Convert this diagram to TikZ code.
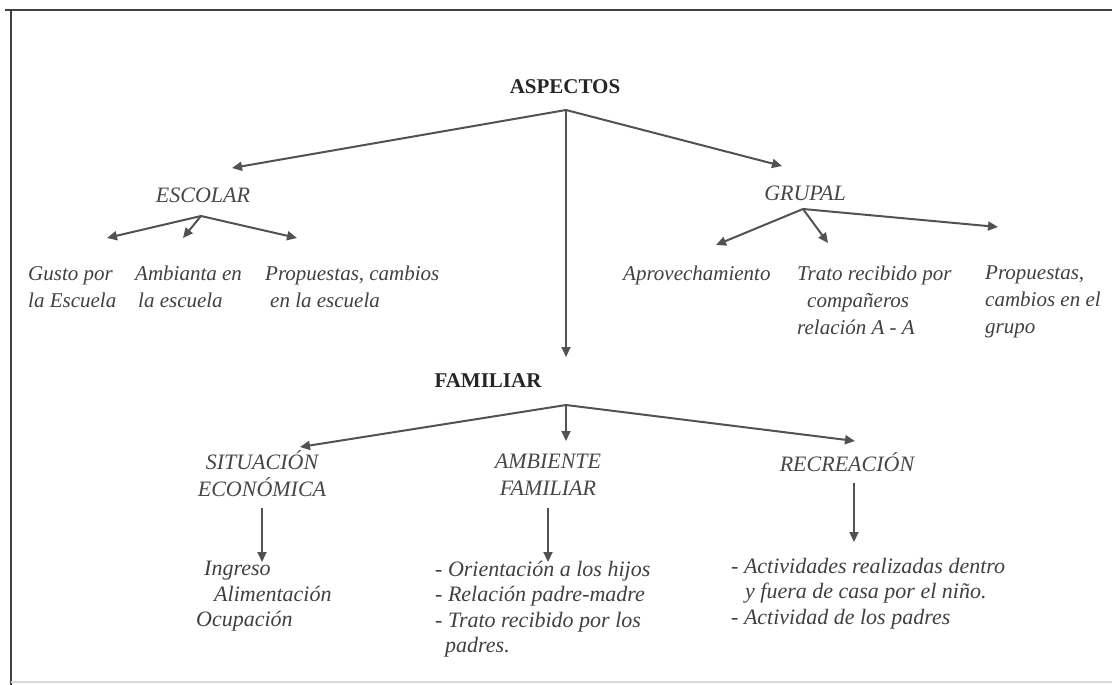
\documentclass[tikz,border=0pt]{standalone}
\usepackage{fontspec}
\setmainfont{Liberation Serif}
\usetikzlibrary{arrows.meta}
\begin{document}
\begin{tikzpicture}[x=1pt,y=-1pt,
  arr/.style={draw=black!68, line width=2pt, -{Triangle[length=10pt,width=9pt]}},
  head/.style={font=\bfseries\fontsize{21}{24}\selectfont, text=black!85, inner sep=0pt},
  cat/.style={font=\itshape\fontsize{22}{27}\selectfont, text=black!72, inner sep=0pt, align=center},
  leaf/.style={font=\itshape\fontsize{21}{27}\selectfont, text=black!75, inner sep=0pt, align=left, anchor=north west},
  leafb/.style={leaf, font=\itshape\fontsize{22}{25.5}\selectfont},
  frameline/.style={line width=2.4pt, draw=black!75}]
\useasboundingbox (0,0) rectangle (1112,685);
% frame
\draw[frameline] (5,10) -- (1112,10);
\draw[frameline, line width=2pt] (11,10) -- (11,685);
\draw[black!15, line width=1.5pt] (11,682) -- (1112,682);

% top level
\node[head] (asp) at (565,87) {ASPECTOS};
\coordinate (apA) at (566,110);
\coordinate (tEsc) at (232,168);
\coordinate (tGrp) at (782,166);
\coordinate (tFam) at (566,357);
\draw[arr] (apA) -- (tEsc);
\draw[arr] (apA) -- (tGrp);
\draw[arr] (apA) -- (tFam);

% ESCOLAR
\node[cat] (esc) at (203,195) {ESCOLAR};
\coordinate (apE) at (201,216);
\coordinate (tE1) at (107,238);
\coordinate (tE2) at (183,238);
\coordinate (tE3) at (297,238);
\draw[arr] (apE) -- (tE1);
\draw[arr] (apE) -- (tE2);
\draw[arr] (apE) -- (tE3);
\node[leaf] (e1) at (28,266) {Gusto por\\la Escuela};
\node[leaf] (e2) at (135,266) {Ambianta en\\\hspace*{3pt}la escuela};
\node[leaf] (e3) at (265,266) {Propuestas, cambios\\\hspace*{5pt}en la escuela};

% GRUPAL
\node[cat] (grp) at (805,193) {GRUPAL};
\coordinate (apG) at (803,209);
\coordinate (tG1) at (716,245);
\coordinate (tG2) at (828,243);
\coordinate (tG3) at (998,227);
\draw[arr] (apG) -- (tG1);
\draw[arr] (apG) -- (tG2);
\draw[arr] (apG) -- (tG3);
\node[leaf] (g1) at (623,266) {Aprovechamiento};
\node[leaf] (g2) at (797,266) {Trato recibido por\\\hspace*{10pt}compañeros\\relación A - A};
\node[leaf] (g3) at (985,266) {Propuestas,\\cambios en el\\grupo};

% FAMILIAR
\node[head] (fam) at (488,381) {FAMILIAR};
\coordinate (apF) at (566,405);
\coordinate (tF1) at (300,447);
\coordinate (tF2) at (566,441);
\coordinate (tF3) at (855,441);
\draw[arr] (apF) -- (tF1);
\draw[arr] (apF) -- (tF2);
\draw[arr] (apF) -- (tF3);

\node[cat, anchor=north] (sit) at (262,450) {SITUACIÓN\\ECONÓMICA};
\node[cat, anchor=north] (amb) at (548,454) {AMBIENTE\\FAMILIAR};
\node[cat] (rec) at (847,462) {RECREACIÓN};

\coordinate (sS) at (262,508);
\coordinate (sE) at (262,562);
\coordinate (aS) at (548,508);
\coordinate (aE) at (548,562);
\coordinate (rS) at (854,483);
\coordinate (rE) at (854,542);
\draw[arr] (sS) -- (sE);
\draw[arr] (aS) -- (aE);
\draw[arr] (rS) -- (rE);

\node[leafb] (s1) at (196,561) {\hspace*{8pt}Ingreso\\\hspace*{18pt}Alimentación\\Ocupación};
\node[leafb] (a1) at (435,561) {- Orientación a los hijos\\- Relación padre-madre\\- Trato recibido por los\\\hspace*{10pt}padres.};
\node[leafb] (r1) at (731,558) {- Actividades realizadas dentro\\\hspace*{14pt}y fuera de casa por el niño.\\- Actividad de los padres};
\end{tikzpicture}
\end{document}
